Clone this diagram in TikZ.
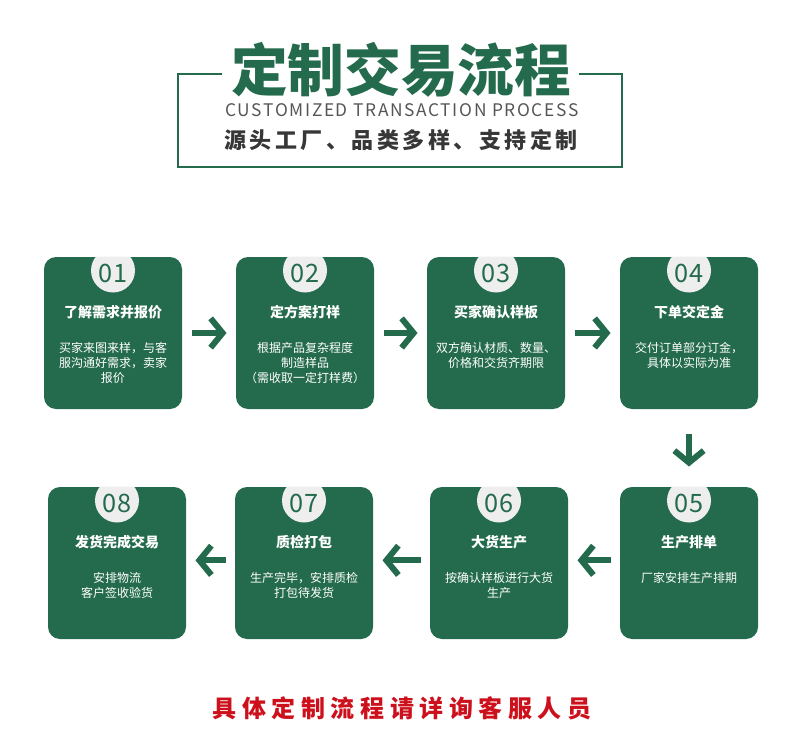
\documentclass[tikz,border=0pt]{standalone}
\usepackage{fontspec}
\setmainfont{Noto Sans CJK SC}
\usetikzlibrary{arrows.meta}

\definecolor{flowgreen}{RGB}{36,107,77}
\definecolor{discgray}{RGB}{238,238,238}
\definecolor{capgray}{RGB}{85,85,85}
\definecolor{subgray}{RGB}{55,55,55}
\definecolor{notered}{RGB}{204,17,29}

\tikzset{every picture/.style={line width=0.75pt}}
\tikzset{
  stepbox/.style={fill=flowgreen, rounded corners=9pt, minimum width=103.5pt, minimum height=114pt, inner sep=0pt},
  stepnum/.style={text=flowgreen, font=\fontsize{19pt}{20pt}\selectfont, inner sep=0pt},
  steptitle/.style={text=white, font=\bfseries\fontsize{10.5pt}{12pt}\selectfont, inner sep=0pt},
  stepnote/.style={text=white, font=\fontsize{9pt}{11.25pt}\selectfont, align=center, inner sep=0pt, anchor=north},
  flowarrow/.style={draw=flowgreen, line width=4.5pt, -{Straight Barb[length=9pt,width=22pt]}, shorten <=6.75pt, shorten >=6.75pt},
  frameline/.style={draw=flowgreen, line width=1.5pt},
}

\begin{document}
\begin{tikzpicture}[x=0.75pt,y=0.75pt,yscale=-1,xscale=1]
\useasboundingbox (0,0) rectangle (800,749);
% y runs downwards, so a positive yshift moves down

%Title frame
\draw [frameline] (222,74) -- (178,74) -- (178,167) -- (622,167) -- (622,74) -- (579,74) ;

% Text Node
\node [text=flowgreen, inner sep=0pt, font=\bfseries\fontsize{42.5pt}{44pt}\selectfont] (title) at (401,70) {定制交易流程};
% Text Node
\node [text=capgray, inner sep=0pt, font=\fontsize{13pt}{14pt}\selectfont\addfontfeature{LetterSpace=9.5}] (entitle) at (402,110) {CUSTOMIZED TRANSACTION PROCESS};
% Text Node
\node [text=subgray, inner sep=0pt, font=\bfseries\fontsize{16.5pt}{18pt}\selectfont\addfontfeature{LetterSpace=16}] (subtitle) at (401,140) {源头工厂、品类多样、支持定制};

%Step boxes, first row
\node [stepbox] (s1) at (113,333) {};
\node [stepbox] (s2) at (305,333) {};
\node [stepbox] (s3) at (496,333) {};
\node [stepbox] (s4) at (689,333) {};
%Step boxes, second row
\node [stepbox] (s5) at (689,563) {};
\node [stepbox] (s6) at (499,563) {};
\node [stepbox] (s7) at (304,563) {};
\node [stepbox] (s8) at (117,563) {};

%Number discs
\begin{scope}
\clip [rounded corners=9pt] (s1.south west) rectangle (s1.north east);
\fill [discgray] ([yshift=10.5pt]s1.north) circle (22);
\end{scope}
\begin{scope}
\clip [rounded corners=9pt] (s2.south west) rectangle (s2.north east);
\fill [discgray] ([yshift=10.5pt]s2.north) circle (22);
\end{scope}
\begin{scope}
\clip [rounded corners=9pt] (s3.south west) rectangle (s3.north east);
\fill [discgray] ([yshift=10.5pt]s3.north) circle (22);
\end{scope}
\begin{scope}
\clip [rounded corners=9pt] (s4.south west) rectangle (s4.north east);
\fill [discgray] ([yshift=10.5pt]s4.north) circle (22);
\end{scope}
\begin{scope}
\clip [rounded corners=9pt] (s5.south west) rectangle (s5.north east);
\fill [discgray] ([yshift=10.5pt]s5.north) circle (22);
\end{scope}
\begin{scope}
\clip [rounded corners=9pt] (s6.south west) rectangle (s6.north east);
\fill [discgray] ([yshift=10.5pt]s6.north) circle (22);
\end{scope}
\begin{scope}
\clip [rounded corners=9pt] (s7.south west) rectangle (s7.north east);
\fill [discgray] ([yshift=10.5pt]s7.north) circle (22);
\end{scope}
\begin{scope}
\clip [rounded corners=9pt] (s8.south west) rectangle (s8.north east);
\fill [discgray] ([yshift=10.5pt]s8.north) circle (22);
\end{scope}

% Text Node
\node [stepnum] (n1) at ([yshift=12.75pt]s1.north) {01};
\node [steptitle] (t1) at ([yshift=42pt]s1.north) {了解需求并报价};
\node [stepnote] (d1) at ([yshift=63.75pt]s1.north) {买家来图来样，与客\\服沟通好需求，卖家\\报价};
% Text Node
\node [stepnum] (n2) at ([yshift=12.75pt]s2.north) {02};
\node [steptitle] (t2) at ([yshift=42pt]s2.north) {定方案打样};
\node [stepnote] (d2) at ([yshift=63.75pt]s2.north) {根据产品复杂程度\\制造样品\\（需收取一定打样费）};
% Text Node
\node [stepnum] (n3) at ([yshift=12.75pt]s3.north) {03};
\node [steptitle] (t3) at ([yshift=42pt]s3.north) {买家确认样板};
\node [stepnote] (d3) at ([yshift=63.75pt]s3.north) {双方确认材质、数量、\\价格和交货齐期限};
% Text Node
\node [stepnum] (n4) at ([yshift=12.75pt]s4.north) {04};
\node [steptitle] (t4) at ([yshift=42pt]s4.north) {下单交定金};
\node [stepnote] (d4) at ([yshift=63.75pt]s4.north) {交付订单部分订金，\\具体以实际为准};
% Text Node
\node [stepnum] (n5) at ([yshift=12.75pt]s5.north) {05};
\node [steptitle] (t5) at ([yshift=42pt]s5.north) {生产排单};
\node [stepnote] (d5) at ([yshift=63.75pt]s5.north) {厂家安排生产排期};
% Text Node
\node [stepnum] (n6) at ([yshift=12.75pt]s6.north) {06};
\node [steptitle] (t6) at ([yshift=42pt]s6.north) {大货生产};
\node [stepnote] (d6) at ([yshift=63.75pt]s6.north) {按确认样板进行大货\\生产};
% Text Node
\node [stepnum] (n7) at ([yshift=12.75pt]s7.north) {07};
\node [steptitle] (t7) at ([yshift=42pt]s7.north) {质检打包};
\node [stepnote] (d7) at ([yshift=63.75pt]s7.north) {生产完毕，安排质检\\打包待发货};
% Text Node
\node [stepnum] (n8) at ([yshift=12.75pt]s8.north) {08};
\node [steptitle] (t8) at ([yshift=42pt]s8.north) {发货完成交易};
\node [stepnote] (d8) at ([yshift=63.75pt]s8.north) {安排物流\\客户签收验货};

%Flow arrows
\draw [flowarrow] (s1) -- (s2) ;
\draw [flowarrow] (s2) -- (s3) ;
\draw [flowarrow] (s3) -- (s4) ;
\draw [flowarrow, shorten <=18pt, shorten >=15pt] (s4) -- (s5) ;
\draw [flowarrow] ([yshift=-2pt]s5.west) -- ([yshift=-2pt]s6.east) ;
\draw [flowarrow] ([yshift=-2pt]s6.west) -- ([yshift=-2pt]s7.east) ;
\draw [flowarrow] ([yshift=-2pt]s7.west) -- ([yshift=-2pt]s8.east) ;

% Text Node
\node [text=notered, inner sep=0pt, font=\bfseries\fontsize{18pt}{19pt}\selectfont\addfontfeature{LetterSpace=23}] (note) at (402,708) {具体定制流程请详询客服人员};

\end{tikzpicture}
\end{document}
